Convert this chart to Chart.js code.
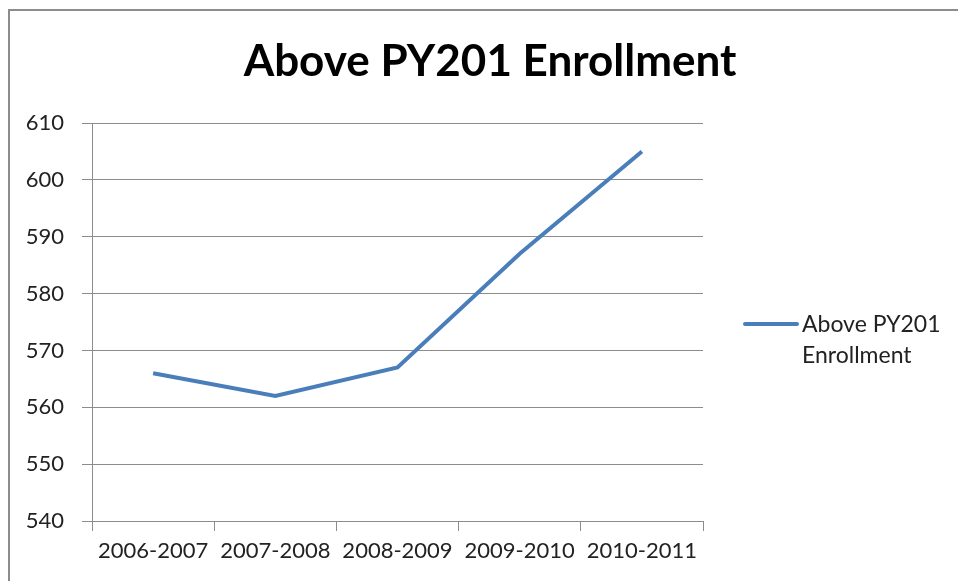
<!DOCTYPE html>
<html>
<head>
<meta charset="utf-8">
<script src="https://cdn.jsdelivr.net/npm/chart.js@4"></script>
<style>
  html, body { margin: 0; padding: 0; background: #fff; }
  #wrap { width: 958px; height: 581px; }
</style>
</head>
<body>
<div id="wrap"><canvas id="enrollChart" width="958" height="581"></canvas></div>
<script>
// data
const years = ['2006-2007', '2007-2008', '2008-2009', '2009-2010', '2010-2011'];
const enrollment = [566, 562, 567, 587, 605];
const seriesName = 'Above PY201 Enrollment';
const legendLines = ['Above PY201', 'Enrollment'];

const fontFam = 'Lato, "Open Sans", sans-serif';

// outer frame, title across the full width, legend on the right (drawn by hand so it wraps)
const framePlugin = {
  id: 'frame',
  beforeDraw(chart) {
    const ctx = chart.ctx;
    ctx.save();
    ctx.strokeStyle = '#8c8c8c';
    ctx.lineWidth = 2;
    ctx.strokeRect(9, 10, 2000, 2000);
    ctx.fillStyle = '#000';
    ctx.font = 'bold 44px ' + fontFam;
    ctx.textAlign = 'center';
    ctx.textBaseline = 'middle';
    ctx.fillText(seriesName, 490, 62);
    ctx.restore();
  },
  afterDraw(chart) {
    const ctx = chart.ctx;
    const ds = chart.data.datasets[0];
    ctx.save();
    ctx.strokeStyle = ds.borderColor;
    ctx.lineWidth = 4;
    ctx.lineCap = 'round';
    ctx.beginPath();
    ctx.moveTo(745, 324);
    ctx.lineTo(797, 324);
    ctx.stroke();
    ctx.fillStyle = '#222';
    ctx.font = '23px ' + fontFam;
    ctx.textBaseline = 'middle';
    ctx.fillText(legendLines[0], 802, 325);
    ctx.fillText(legendLines[1], 802, 356);
    ctx.restore();
  }
};

document.addEventListener('DOMContentLoaded', function () {
  const canvas = document.getElementById('enrollChart').getContext('2d');
  const chart = new Chart(canvas, {
    type: 'line',
    data: {
      labels: years,
      datasets: [{
        label: seriesName,
        data: enrollment,
        borderColor: '#4a7ebb',
        borderWidth: 4,
        pointRadius: 0,
        tension: 0,
        fill: false
      }]
    },
    options: {
      responsive: false,
      maintainAspectRatio: false,
      animation: false,
      layout: { padding: { left: 0, right: 255, top: 123, bottom: 0 } },
      plugins: {
        legend: { display: false },
        tooltip: { enabled: false },
        title: { display: false }
      },
      scales: {
        x: {
          offset: true,
          grid: {
            offset: true,
            drawOnChartArea: false,
            tickLength: 10,
            color: '#8c8c8c'
          },
          border: { color: '#8c8c8c', width: 1 },
          ticks: {
            color: '#222',
            font: { family: fontFam, size: 22 },
            maxRotation: 0,
            autoSkip: false,
            padding: 7
          },
          afterFit(scale) { scale.height = 60; }
        },
        y: {
          min: 540,
          max: 610,
          ticks: {
            stepSize: 10,
            color: '#222',
            font: { family: fontFam, size: 22 },
            padding: 18
          },
          grid: { color: '#8c8c8c', tickLength: 10 },
          border: { color: '#8c8c8c', width: 1 },
          afterFit(scale) { scale.width = 92; }
        }
      }
    },
    plugins: [framePlugin]
  });
});
</script>
</body>
</html>
